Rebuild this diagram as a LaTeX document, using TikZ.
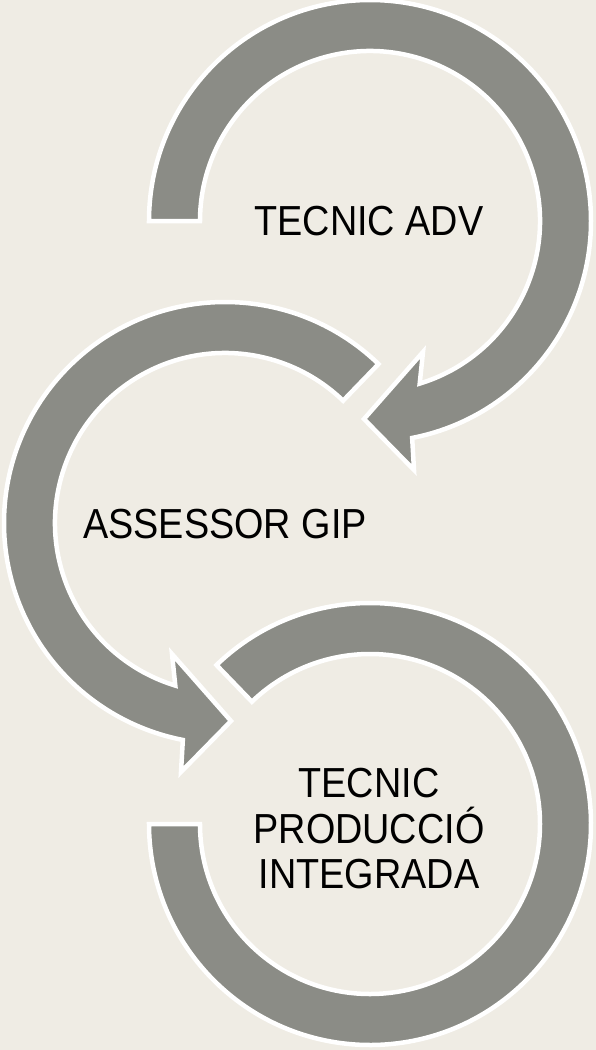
\documentclass[tikz,border=0pt]{standalone}
\usepackage{fontspec}
\setmainfont[FakeStretch=0.9]{Liberation Sans}
\usepackage{tikz}
\usetikzlibrary{positioning}
\definecolor{bgbeige}{RGB}{239,236,228}
\definecolor{arrowgray}{RGB}{139,140,134}
\tikzset{arrowband/.style={fill=arrowgray,draw=white,line width=4.5bp,line join=miter},
  steplabel/.style={align=center,font=\fontsize{42bp}{45.5bp}\selectfont,inner sep=0pt}}
\begin{document}
\begin{tikzpicture}

\path[use as bounding box,fill=bgbeige] (0bp,0bp) rectangle (596bp,-1050bp);

\begin{scope}[shift={(370bp,-824bp)}]
\draw[arrowband] (134:221bp) arc[start angle=134,end angle=-180,radius=221bp] -- (-180:170bp) arc[start angle=-180,end angle=134,radius=170bp] -- cycle;
\end{scope}

\begin{scope}[shift={(225bp,-523bp)}]
\draw[arrowband] (46:221bp) arc[start angle=46,end angle=259,radius=221bp] -- (-44bp,-249bp) -- (6bp,-198bp) -- (-53bp,-131bp) -- (253:170bp) arc[start angle=253,end angle=46,radius=170bp] -- cycle;
\end{scope}

\begin{scope}[shift={(370bp,-221bp)}]
\draw[arrowband] (180:221bp) arc[start angle=180,end angle=-79,radius=221bp] -- (44bp,-249bp) -- (-6bp,-198bp) -- (53bp,-131bp) -- (-73:170bp) arc[start angle=-73,end angle=180,radius=170bp] -- cycle;
\end{scope}

\node (adv) at (369bp,-221bp)[steplabel] {TECNIC ADV};
\node (gip) at (225bp,-524bp)[steplabel] {ASSESSOR GIP};
\node (pi) at (369bp,-829bp)[steplabel] {TECNIC\\PRODUCCIÓ\\INTEGRADA};
\end{tikzpicture}
\end{document}
